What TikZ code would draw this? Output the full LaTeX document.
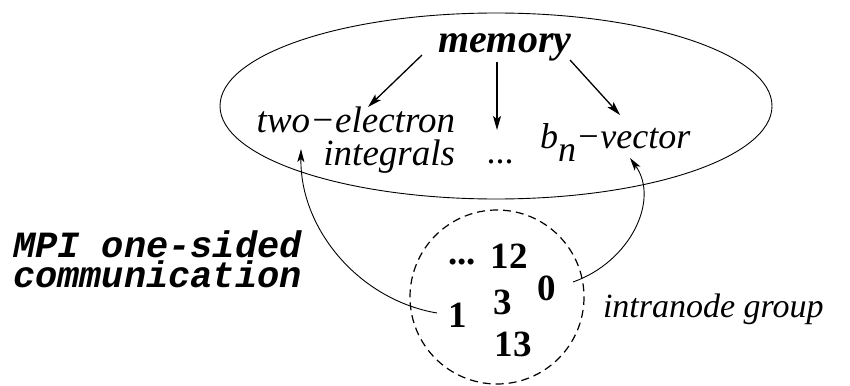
\documentclass[tikz,border=0pt]{standalone}
\usepackage{fontspec}
\setmainfont{Liberation Serif}
\setmonofont{Liberation Mono}
\usetikzlibrary{arrows.meta}
\begin{document}
\begin{tikzpicture}[x=1pt,y=-1pt,
  lbl/.style={inner sep=0pt, outer sep=0pt},
  arr/.style={line width=1.3pt, -{Stealth[length=14pt,width=8pt,inset=3pt]}},
  carr/.style={line width=0.9pt, -{Stealth[length=13pt,width=7pt,inset=3pt]}},
  num/.style={lbl, font=\fontsize{37}{37}\selectfont\bfseries}]
\useasboundingbox (0,0) rectangle (850,385);
% memory ellipse and process circle
\draw[line width=0.9pt] (496,106) ellipse [x radius=276, y radius=93];
\draw[line width=1.2pt, dash pattern=on 8pt off 5pt] (497,297) circle [radius=87];
% texts
\node[lbl, anchor=base west, font=\fontsize{40}{40}\selectfont\bfseries\itshape] (mem) at (438,53) {memory};
\node[lbl, anchor=base east, align=right, font=\fontsize{37}{33}\selectfont\itshape] (two) at (455,165) {two−electron\\integrals};
\node[lbl, anchor=base, font=\fontsize{36}{36}\selectfont] (dots) at (500,163) {...};
\node[lbl, anchor=base west, font=\fontsize{36}{36}\selectfont\itshape] (bvec) at (540,148) {b\raisebox{-13pt}{n}−vector};
\node[lbl, anchor=base west, font=\fontsize{34}{34}\selectfont\itshape] (grp) at (603,317) {intranode group};
\node[lbl, anchor=base west, align=left, font=\fontsize{37}{30}\selectfont\ttfamily\bfseries\itshape] (mpi) at (13,287) {MPI one-sided\\communication};
% node numbers
\node[num] (pdots) at (462,262) {...};
\node[num] (p12) at (509,256) {12};
\node[num] (p0) at (547,288) {0};
\node[num] (p3) at (503,302) {3};
\node[num] (p1) at (458,315) {1};
\node[num] (p13) at (513,344) {13};
% arrow end points
\coordinate (m1) at (422,55);
\coordinate (t1) at (368,107);
\coordinate (m2) at (497,62);
\coordinate (t2) at (497,130);
\coordinate (m3) at (570,60);
\coordinate (t3) at (620,115);
\coordinate (s1) at (437,313);
\coordinate (e1) at (301,149);
\coordinate (s0) at (573,282);
\coordinate (e0) at (630,158);
\draw[arr] (m1) -- (t1);
\draw[arr] (m2) -- (t2);
\draw[arr] (m3) -- (t3);
\draw[carr] (s1) .. controls (360,300) and (300,230) .. (e1);
\draw[carr] (s0) .. controls (630,262) and (660,200) .. (e0);
\end{tikzpicture}
\end{document}
